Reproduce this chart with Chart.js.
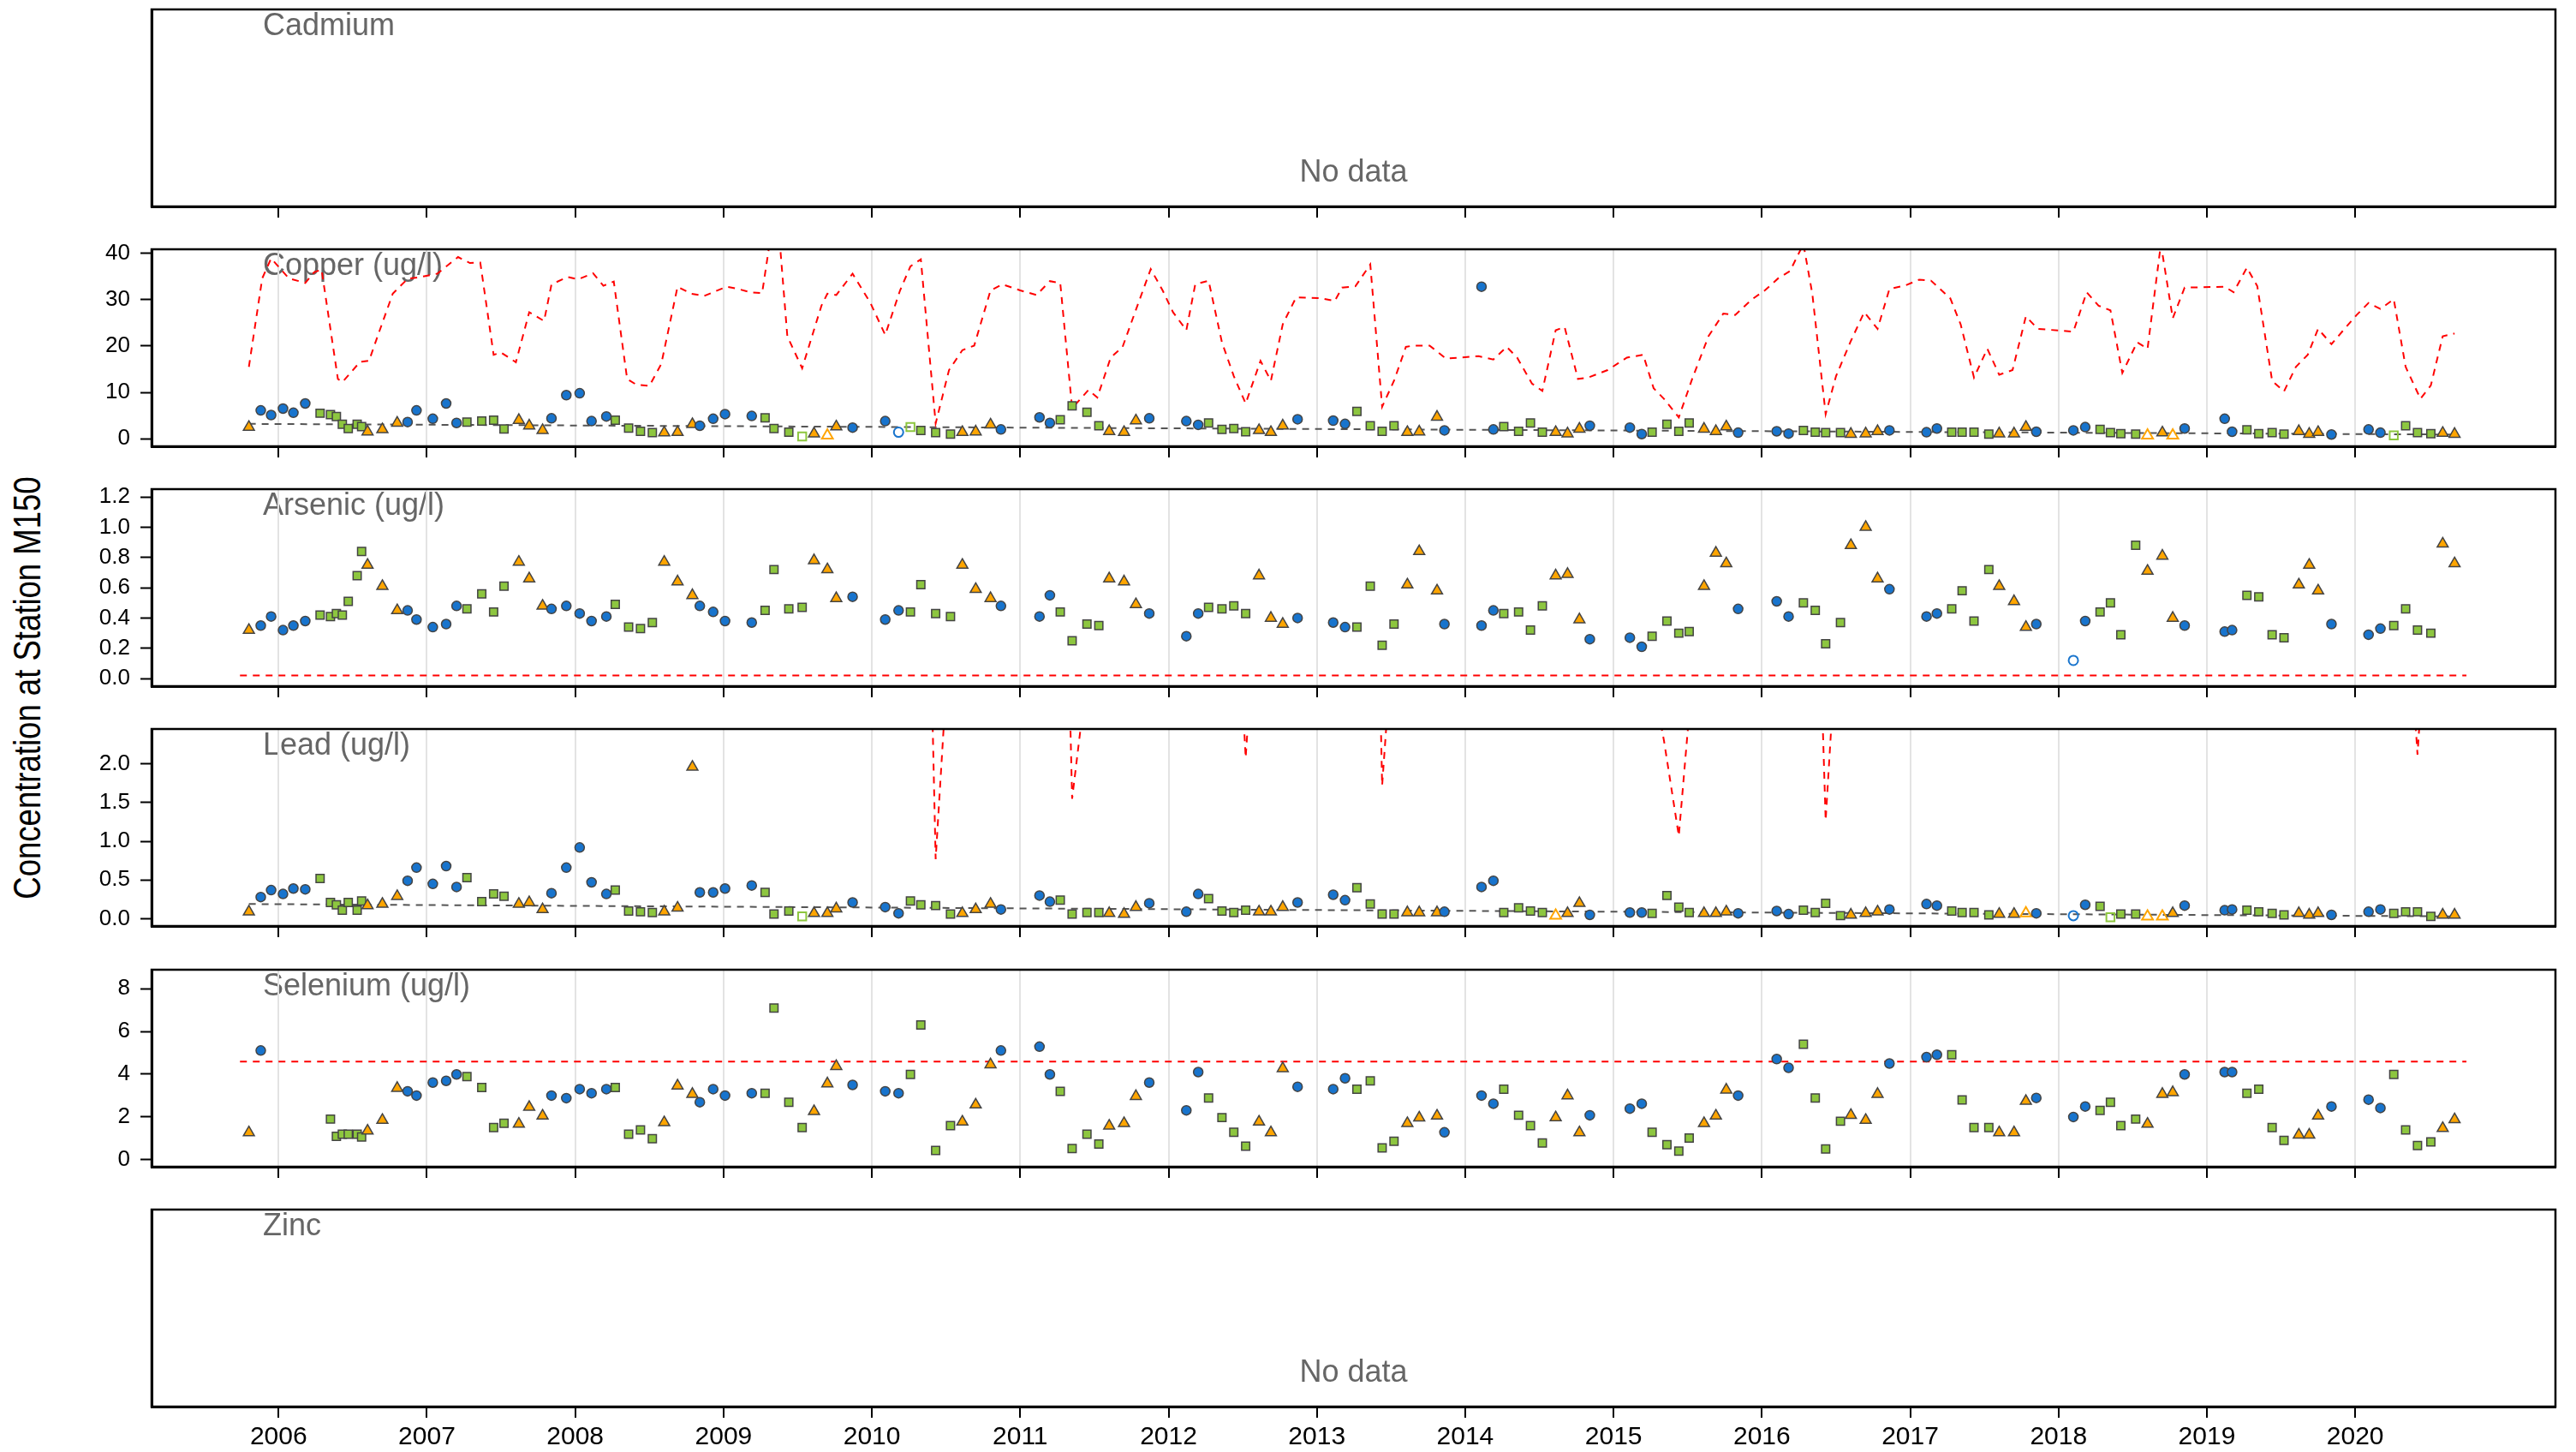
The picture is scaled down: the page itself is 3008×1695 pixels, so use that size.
<!DOCTYPE html>
<html>
<head>
<meta charset="utf-8">
<script src="https://cdn.jsdelivr.net/npm/chart.js@4.4.1/dist/chart.umd.min.js"></script>
<style>
  html, body { margin: 0; padding: 0; background: #fff; }
  #wrap { position: relative; width: 3008px; height: 1695px; overflow: hidden; background: #fff; }
  #wrap canvas { position: absolute; left: 0; }
  #ytitle {
    position: absolute; left: 32px; top: 803px;
    font: 44px "Liberation Sans", Arial, sans-serif; color: #000; white-space: nowrap;
    transform: translate(-50%, -50%) rotate(-90deg) scaleX(0.83);
  }
</style>
</head>
<body>
<div id="wrap">
  <div id="ytitle">Concentration at Station M150</div>
</div>
<script>
// sample dates (decimal years) and season symbol per sample: c = circle, s = square, t = triangle
const dates = [
  2005.80, 2005.88, 2005.95, 2006.03, 2006.10, 2006.18, 2006.28, 2006.35, 2006.39, 2006.43, 2006.47, 2006.53, 2006.56, 2006.60, 2006.70, 2006.80,
  2006.87, 2006.93, 2007.04, 2007.13, 2007.20, 2007.27, 2007.37, 2007.45, 2007.52, 2007.62, 2007.69, 2007.78,
  2007.84, 2007.94, 2008.03, 2008.11, 2008.21, 2008.27, 2008.36, 2008.44, 2008.52, 2008.60, 2008.69, 2008.79,
  2008.84, 2008.93, 2009.01, 2009.19, 2009.28, 2009.34, 2009.44, 2009.53, 2009.61, 2009.70, 2009.76,
  2009.87, 2010.09, 2010.18, 2010.26, 2010.33, 2010.43, 2010.53, 2010.61, 2010.70, 2010.80,
  2010.87, 2011.13, 2011.20, 2011.27, 2011.35, 2011.45, 2011.53, 2011.60, 2011.70, 2011.78,
  2011.87, 2012.12, 2012.20, 2012.27, 2012.36, 2012.44, 2012.52, 2012.61, 2012.69, 2012.77,
  2012.87, 2013.11, 2013.19, 2013.27, 2013.36, 2013.44, 2013.52, 2013.61, 2013.69, 2013.81,
  2013.86, 2014.11, 2014.19, 2014.26, 2014.36, 2014.44, 2014.52, 2014.61, 2014.69, 2014.77,
  2014.84, 2015.11, 2015.19, 2015.26, 2015.36, 2015.44, 2015.51, 2015.61, 2015.69, 2015.76,
  2015.84, 2016.10, 2016.18, 2016.28, 2016.36, 2016.43, 2016.53, 2016.60, 2016.70, 2016.78,
  2016.86, 2017.11, 2017.18, 2017.28, 2017.35, 2017.43, 2017.53, 2017.60, 2017.70, 2017.78,
  2017.85, 2018.10, 2018.18, 2018.28, 2018.35, 2018.42, 2018.52, 2018.60, 2018.70, 2018.77,
  2018.85, 2019.12, 2019.17, 2019.27, 2019.35, 2019.44, 2019.52, 2019.62, 2019.69, 2019.75,
  2019.84, 2020.09, 2020.17, 2020.26, 2020.34, 2020.42, 2020.51, 2020.59, 2020.67
];
const seasons = ('tcccccsssssssttt' + 'cccccssssttt' + 'cccccssssttt' + 'ccccssssttt' +
  'cccssssttt'.repeat(10) + 'cccsssstt').split('');

const copper = [
  2.5, 6.1, 5.1, 6.5, 5.6, 7.6, 5.5, 5.2, 4.8, 3.1, 2.2, 3.1, 2.6, 1.5, 2.0, 3.4,
  3.6, 6.1, 4.3, 7.6, 3.4, 3.6, 3.8, 4.0, 2.1, 4.0, 2.8, 1.8,
  4.4, 9.4, 9.8, 3.8, 4.8, 4.0, 2.3, 1.6, 1.3, 1.3, 1.4, 3.1,
  2.8, 4.3, 5.3, 4.9, 4.5, 2.2, 1.4, 0.5, 1.1, 0.7, 2.6,
  2.4, 3.8, 1.4, 2.5, 1.8, 1.3, 1.0, 1.4, 1.5, 3.0,
  2.0, 4.6, 3.4, 4.1, 7.1, 5.7, 2.8, 1.6, 1.4, 3.9,
  4.4, 3.8, 3.0, 3.4, 2.0, 2.2, 1.5, 1.8, 1.4, 2.8,
  4.2, 3.9, 3.2, 5.9, 2.8, 1.6, 2.8, 1.4, 1.5, 4.7,
  1.8, 32.8, 2.0, 2.6, 1.6, 3.4, 1.4, 1.4, 1.1, 2.1,
  2.8, 2.4, 1.0, 1.4, 3.1, 1.6, 3.4, 2.1, 1.6, 2.6,
  1.3, 1.6, 1.1, 1.8, 1.4, 1.3, 1.3, 1.0, 1.1, 1.6,
  1.8, 1.4, 2.2, 1.4, 1.4, 1.4, 1.0, 1.1, 1.1, 2.5,
  1.5, 1.8, 2.5, 2.0, 1.3, 1.1, 1.0, 0.7, 1.3, 0.7,
  2.2, 4.3, 1.5, 1.9, 1.1, 1.3, 1.0, 1.6, 1.0, 1.4,
  0.9, 2.0, 1.3, 0.7, 2.8, 1.3, 1.1, 1.2, 1.0
];
const arsenic = [
  0.32, 0.35, 0.41, 0.32, 0.35, 0.38, 0.42, 0.41, 0.43, 0.42, 0.51, 0.68, 0.84, 0.75, 0.61, 0.45,
  0.45, 0.39, 0.34, 0.36, 0.48, 0.46, 0.56, 0.44, 0.61, 0.77, 0.66, 0.48,
  0.46, 0.48, 0.43, 0.38, 0.41, 0.49, 0.34, 0.33, 0.37, 0.77, 0.64, 0.55,
  0.48, 0.44, 0.38, 0.37, 0.45, 0.72, 0.46, 0.47, 0.78, 0.72, 0.53,
  0.54, 0.39, 0.45, 0.44, 0.62, 0.43, 0.41, 0.75, 0.59, 0.53,
  0.48, 0.41, 0.55, 0.44, 0.25, 0.36, 0.35, 0.66, 0.64, 0.49,
  0.43, 0.28, 0.43, 0.47, 0.46, 0.48, 0.43, 0.68, 0.40, 0.36,
  0.40, 0.37, 0.34, 0.34, 0.61, 0.22, 0.36, 0.62, 0.84, 0.58,
  0.36, 0.35, 0.45, 0.43, 0.44, 0.32, 0.48, 0.68, 0.69, 0.39,
  0.26, 0.27, 0.21, 0.28, 0.38, 0.30, 0.31, 0.61, 0.83, 0.76,
  0.46, 0.51, 0.41, 0.50, 0.45, 0.23, 0.37, 0.88, 1.00, 0.66,
  0.59, 0.41, 0.43, 0.46, 0.58, 0.38, 0.72, 0.61, 0.51, 0.34,
  0.36, 0.12, 0.38, 0.44, 0.50, 0.29, 0.88, 0.71, 0.81, 0.40,
  0.35, 0.31, 0.32, 0.55, 0.54, 0.29, 0.27, 0.62, 0.75, 0.58,
  0.36, 0.29, 0.33, 0.35, 0.46, 0.32, 0.30, 0.89, 0.76
];
const lead = [
  0.09, 0.28, 0.37, 0.32, 0.39, 0.38, 0.52, 0.21, 0.18, 0.11, 0.21, 0.11, 0.23, 0.17, 0.19, 0.29,
  0.49, 0.66, 0.45, 0.68, 0.41, 0.53, 0.22, 0.32, 0.29, 0.19, 0.21, 0.12,
  0.33, 0.66, 0.92, 0.47, 0.32, 0.37, 0.10, 0.09, 0.08, 0.09, 0.14, 1.96,
  0.34, 0.34, 0.39, 0.43, 0.34, 0.06, 0.10, 0.03, 0.07, 0.07, 0.13,
  0.21, 0.15, 0.07, 0.23, 0.18, 0.17, 0.06, 0.07, 0.12, 0.19,
  0.12, 0.30, 0.22, 0.24, 0.06, 0.08, 0.08, 0.07, 0.06, 0.15,
  0.20, 0.09, 0.32, 0.26, 0.10, 0.08, 0.11, 0.09, 0.09, 0.15,
  0.21, 0.31, 0.24, 0.40, 0.19, 0.06, 0.06, 0.08, 0.08, 0.08,
  0.09, 0.41, 0.49, 0.08, 0.14, 0.10, 0.08, 0.04, 0.07, 0.20,
  0.05, 0.08, 0.08, 0.07, 0.30, 0.15, 0.08, 0.07, 0.07, 0.09,
  0.07, 0.10, 0.06, 0.11, 0.08, 0.20, 0.04, 0.05, 0.07, 0.09,
  0.12, 0.19, 0.17, 0.10, 0.08, 0.08, 0.05, 0.06, 0.06, 0.07,
  0.07, 0.04, 0.18, 0.16, 0.02, 0.06, 0.06, 0.03, 0.03, 0.07,
  0.17, 0.11, 0.12, 0.11, 0.09, 0.07, 0.05, 0.07, 0.05, 0.07,
  0.05, 0.09, 0.12, 0.07, 0.09, 0.09, 0.03, 0.05, 0.05
];
const selenium = [
  1.27, 5.11, null, null, null, null, null, 1.90, 1.09, 1.19, 1.19, 1.19, 1.06, 1.35, 1.85, 3.35,
  3.20, 3.00, 3.61, 3.69, 3.99, 3.89, 3.38, 1.50, 1.70, 1.67, 2.46, 2.05,
  3.00, 2.88, 3.30, 3.11, 3.30, 3.38, 1.19, 1.39, 0.98, 1.74, 3.46, 3.07,
  2.69, 3.30, 3.00, 3.11, 3.11, 7.10, 2.69, 1.50, 2.26, 3.56, 4.37,
  3.50, 3.20, 3.11, 3.99, 6.30, 0.43, 1.59, 1.77, 2.57, 4.45,
  5.11, 5.29, 3.99, 3.20, 0.52, 1.19, 0.73, 1.58, 1.70, 2.97,
  3.61, 2.31, 4.10, 2.89, 1.97, 1.28, 0.63, 1.77, 1.27, 4.27,
  3.41, 3.30, 3.81, 3.30, 3.69, 0.55, 0.86, 1.70, 1.96, 2.05,
  1.28, 3.00, 2.62, 3.30, 2.08, 1.59, 0.78, 1.97, 3.00, 1.27,
  2.08, 2.39, 2.62, 1.28, 0.70, 0.40, 1.01, 1.70, 2.05, 3.27,
  3.00, 4.71, 4.30, 5.40, 2.89, 0.50, 1.80, 2.08, 1.85, 3.07,
  4.50, 4.80, 4.91, 4.91, 2.80, 1.50, 1.50, 1.27, 1.27, 2.74,
  2.89, 2.00, 2.49, 2.31, 2.69, 1.59, 1.90, 1.67, 3.07, 3.15,
  3.99, 4.10, 4.10, 3.11, 3.30, 1.50, 0.90, 1.16, 1.16, 2.05,
  2.49, 2.81, 2.42, 3.99, 1.39, 0.66, 0.83, 1.47, 1.88
];

// non-detect samples (drawn hollow)
const copperND = [2009.53, 2009.70, 2010.18, 2010.26, 2018.60, 2018.77, 2020.26];
const arsenicND = [2018.10];
const leadND = [2009.53, 2014.61, 2017.78, 2018.10, 2018.35, 2018.60, 2018.70];

// criterion lines (red dashed)
const copperCritX = [2005.80, 2005.89, 2005.95, 2006.07, 2006.18, 2006.24, 2006.29, 2006.40, 2006.43, 2006.55, 2006.61, 2006.66, 2006.77, 2006.87, 2006.96,
  2007.07, 2007.21, 2007.29, 2007.36, 2007.45, 2007.50, 2007.60, 2007.69, 2007.79, 2007.84, 2007.95, 2008.02, 2008.12, 2008.19, 2008.26,
  2008.35, 2008.41, 2008.50, 2008.58, 2008.69, 2008.78, 2008.87, 2009.02, 2009.10, 2009.18, 2009.26, 2009.31, 2009.38, 2009.43, 2009.53,
  2009.66, 2009.70, 2009.76, 2009.87, 2009.99, 2010.09, 2010.19, 2010.26, 2010.33, 2010.43, 2010.52, 2010.61, 2010.69, 2010.80, 2010.88,
  2011.00, 2011.11, 2011.20, 2011.27, 2011.35, 2011.46, 2011.52, 2011.61, 2011.69, 2011.79, 2011.88, 2011.96, 2012.03, 2012.12, 2012.18,
  2012.27, 2012.36, 2012.44, 2012.52, 2012.62, 2012.69, 2012.77, 2012.86, 2013.03, 2013.12, 2013.17, 2013.26, 2013.36, 2013.44, 2013.52,
  2013.60, 2013.65, 2013.76, 2013.87, 2014.09, 2014.19, 2014.28, 2014.35, 2014.45, 2014.52, 2014.61, 2014.67, 2014.76, 2014.83, 2014.96,
  2015.09, 2015.20, 2015.27, 2015.34, 2015.44, 2015.53, 2015.64, 2015.74, 2015.82, 2015.93, 2016.02, 2016.11, 2016.19, 2016.28, 2016.34,
  2016.43, 2016.50, 2016.60, 2016.69, 2016.78, 2016.86, 2016.97, 2017.06, 2017.14, 2017.27, 2017.34, 2017.43, 2017.52, 2017.60, 2017.69,
  2017.78, 2017.86, 2018.10, 2018.19, 2018.27, 2018.35, 2018.43, 2018.53, 2018.60, 2018.69, 2018.77, 2018.85, 2019.12, 2019.18, 2019.27,
  2019.34, 2019.44, 2019.52, 2019.60, 2019.68, 2019.75, 2019.84, 2019.92, 2020.01, 2020.09, 2020.17, 2020.26, 2020.34, 2020.44, 2020.51,
  2020.59, 2020.67];
const copperCritY = [15.5, 34.6, 38.9, 34.6, 33.6, 35.9, 36.5, 12.9, 12.2, 16.6, 16.8, 21.4, 31.3, 34.5, 34.9,
  35.6, 39.2, 37.9, 38.0, 18.1, 18.6, 16.5, 27.3, 25.4, 33.3, 34.9, 34.4, 35.7, 33.0, 33.9,
  12.9, 11.7, 11.4, 16.1, 32.8, 31.3, 30.8, 32.8, 32.3, 31.6, 31.4, 42.0, 42.0, 22.1, 15.2,
  28.7, 31.3, 31.0, 35.6, 29.3, 22.4, 32.0, 37.2, 38.7, 3.3, 14.8, 19.1, 20.1, 32.0, 33.3,
  32.0, 31.0, 34.0, 33.6, 6.6, 10.5, 8.9, 17.5, 19.8, 28.7, 36.6, 32.0, 27.3, 23.4, 33.3,
  34.1, 20.8, 13.5, 7.6, 16.8, 12.5, 24.7, 30.5, 30.3, 29.7, 32.6, 32.9, 37.6, 6.9, 12.5,
  19.8, 20.1, 20.1, 17.3, 17.8, 17.1, 19.8, 17.5, 11.9, 10.3, 23.4, 24.1, 12.9, 13.2, 14.8,
  17.5, 18.1, 10.9, 8.6, 4.6, 12.9, 22.1, 27.0, 26.7, 30.0, 32.0, 34.6, 36.2, 42.0, 31.3,
  5.3, 13.5, 21.1, 27.3, 23.7, 32.3, 33.1, 34.3, 34.1, 30.3, 24.7, 13.2, 19.4, 13.8, 14.8,
  26.4, 23.7, 23.1, 31.6, 28.7, 27.7, 14.2, 20.8, 19.4, 42.0, 26.0, 32.6, 32.8, 31.6, 36.9,
  32.9, 12.5, 10.2, 15.5, 18.1, 23.7, 20.4, 23.4, 26.7, 29.3, 28.0, 30.1, 15.5, 8.6, 11.5,
  22.1, 22.7];
const leadCritX = [2010.33, 2010.43, 2010.52, 2011.27, 2011.35, 2011.46, 2012.44, 2012.52, 2012.62, 2013.36, 2013.44, 2013.52,
  2015.27, 2015.34, 2015.44, 2015.53, 2016.34, 2016.43, 2016.50, 2020.34, 2020.42, 2020.51];
const leadCritY = [9.3, 0.77, 3.6, 8.0, 1.55, 3.3, 5.0, 2.08, 5.0, 9.0, 1.72, 3.9,
  3.0, 2.3, 1.07, 3.1, 6.9, 1.27, 3.5, 4.5, 2.12, 4.8];
const refX = [2005.74, 2020.75];
const arsenicCrit = [0.02, 0.02];
const seleniumCrit = [4.59, 4.59];

// trend lines (grey dashed)
const trendX = [2005.80, 2020.67];
const copperTrend = [3.2, 0.9];
const leadTrend = [0.19, 0.03];

// axis ticks
const yearTicks = [2006, 2007, 2008, 2009, 2010, 2011, 2012, 2013, 2014, 2015, 2016, 2017, 2018, 2019, 2020];
const copperTicks = [0, 10, 20, 30, 40];
const arsenicTicks = [0, 0.2, 0.4, 0.6, 0.8, 1.0, 1.2];
const leadTicks = [0, 0.5, 1.0, 1.5, 2.0];
const seleniumTicks = [0, 2, 4, 6, 8];

const fills = { c: '#1874CD', s: '#8DC63F', t: '#FFA500' };
const shapes = { c: 'circle', s: 'rect', t: 'triangle' };
const radii = { c: 5.5, s: 6.7, t: 7.4 };

Chart.defaults.font.family = '"Liberation Sans", Arial, sans-serif';
Chart.defaults.color = '#000';

function samples(vals, nd) {
  const pts = [];
  dates.forEach((d, i) => {
    if (vals[i] == null) return;
    pts.push({ x: d, y: vals[i], s: seasons[i], nd: nd.includes(d) });
  });
  return {
    data: pts,
    order: 0,
    pointStyle: c => c.raw ? shapes[c.raw.s] : 'circle',
    pointRadius: c => c.raw ? radii[c.raw.s] : 5,
    pointHoverRadius: c => c.raw ? radii[c.raw.s] : 5,
    pointBackgroundColor: c => !c.raw ? '#000' : (c.raw.nd ? 'rgba(0,0,0,0)' : fills[c.raw.s]),
    pointBorderColor: c => !c.raw ? '#000' : (c.raw.nd ? fills[c.raw.s] : '#444444'),
    pointBorderWidth: c => c.raw && c.raw.nd ? 2 : 1.5
  };
}

function dashed(xs, ys, color) {
  return {
    data: xs.map((x, i) => ({ x: x, y: ys[i] })),
    showLine: true, borderColor: color, borderWidth: 2, borderDash: [8, 7],
    pointRadius: 0, pointHoverRadius: 0, fill: false, tension: 0, order: 1
  };
}

const panels = [
  { title: 'Cadmium', top: 11, noData: true },
  { title: 'Copper (ug/l)', top: 291, min: -1.64, max: 40.87, ticks: copperTicks, dec: 0,
    sets: [samples(copper, copperND), dashed(copperCritX, copperCritY, '#FF0000'), dashed(trendX, copperTrend, '#555555')] },
  { title: 'Arsenic (ug/l)', top: 571, min: -0.05, max: 1.251, ticks: arsenicTicks, dec: 1,
    sets: [samples(arsenic, arsenicND), dashed(refX, arsenicCrit, '#FF0000')] },
  { title: 'Lead (ug/l)', top: 851, min: -0.094, max: 2.45, ticks: leadTicks, dec: 1,
    sets: [samples(lead, leadND), dashed(leadCritX, leadCritY, '#FF0000'), dashed(trendX, leadTrend, '#555555')] },
  { title: 'Selenium (ug/l)', top: 1132, min: -0.33, max: 8.89, ticks: seleniumTicks, dec: 0,
    sets: [samples(selenium, []), dashed(refX, seleniumCrit, '#FF0000')] },
  { title: 'Zinc', top: 1412, noData: true }
];

const panelText = {
  id: 'panelText',
  beforeDraw(chart, args, o) {
    const { ctx, chartArea: a } = chart;
    ctx.save();
    ctx.fillStyle = '#666666';
    ctx.font = '36px "Liberation Sans", Arial, sans-serif';
    ctx.textBaseline = 'alphabetic';
    ctx.textAlign = 'left';
    ctx.fillText(o.title, 307, a.top + 30);
    if (o.noData) {
      ctx.textAlign = 'center';
      ctx.fillText('No data', (a.left + a.right) / 2, a.bottom - 29);
    }
    ctx.restore();
  },
  afterDraw(chart) {
    const { ctx, chartArea: a } = chart;
    ctx.save();
    ctx.strokeStyle = '#000';
    ctx.lineWidth = 2.5;
    ctx.strokeRect(a.left, a.top, a.right - a.left, a.bottom - a.top);
    ctx.restore();
  }
};

const padTop = 34; // room for the top tick label so the plot area is not pushed down
const wrap = document.getElementById('wrap');
panels.forEach((p, k) => {
  const last = k === panels.length - 1;
  const axisH = last ? 53 : 50;
  const h = padTop + 230 + axisH;
  const cv = document.createElement('canvas');
  cv.width = 3008;
  cv.height = h;
  cv.style.top = (p.top - padTop) + 'px';
  cv.style.width = '3008px';
  cv.style.height = h + 'px';
  wrap.appendChild(cv);
  const hasData = !p.noData;

  new Chart(cv, {
    type: 'scatter',
    data: { datasets: p.sets || [] },
    options: {
      responsive: false,
      animation: false,
      devicePixelRatio: 1,
      layout: { padding: { top: padTop, right: 24, left: 0, bottom: 0 } },
      plugins: {
        legend: { display: false },
        tooltip: { enabled: false },
        panelText: { title: p.title, noData: !!p.noData }
      },
      scales: {
        x: {
          type: 'linear', position: 'bottom', min: 2005.144, max: 2021.35, bounds: 'data',
          afterBuildTicks: a => { a.ticks = yearTicks.map(v => ({ value: v })); },
          afterFit: a => { a.height = axisH; },
          ticks: { display: last, font: { size: 30 }, color: '#000', padding: 5, maxRotation: 0, autoSkip: false,
                   callback: v => String(v) },
          grid: { drawOnChartArea: hasData, color: '#E3E3E3', lineWidth: 2,
                  drawTicks: true, tickLength: 13, tickColor: '#000', tickWidth: 2 },
          border: { display: true, color: '#000', width: 3 }
        },
        y: {
          type: 'linear', min: hasData ? p.min : 0, max: hasData ? p.max : 1, bounds: 'data',
          afterBuildTicks: a => { a.ticks = (p.ticks || []).map(v => ({ value: v })); },
          afterFit: a => { a.width = 177; },
          ticks: { display: hasData, font: { size: 26 }, color: '#000', padding: 12,
                   callback: v => Number(v).toFixed(p.dec || 0) },
          grid: { drawOnChartArea: false, drawTicks: hasData, tickLength: 13, tickColor: '#000', tickWidth: 2 },
          border: { display: true, color: '#000', width: 3 }
        }
      }
    },
    plugins: [panelText]
  });
});
</script>
</body>
</html>
